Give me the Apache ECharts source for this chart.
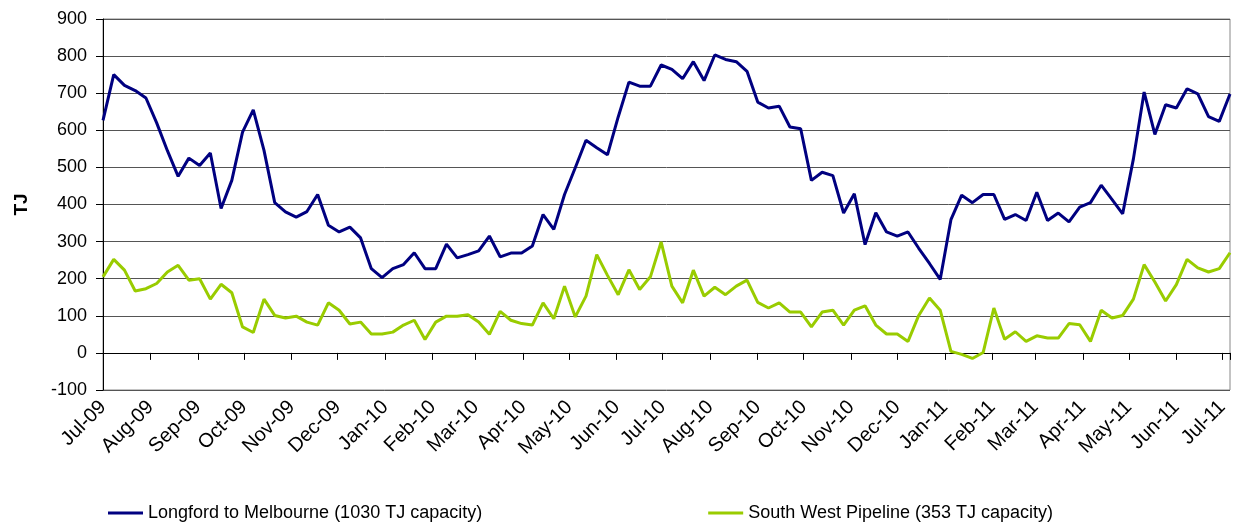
<!DOCTYPE html>
<html>
<head>
<meta charset="utf-8">
<script src="https://cdn.jsdelivr.net/npm/echarts@6/dist/echarts.min.js"></script>
<style>
  html, body { margin: 0; padding: 0; background: #fff; }
  #main { width: 1238px; height: 522px; }
</style>
</head>
<body>
<div id="main"></div>
<script>
// weekly dates
var weeks = [
  '2009-07-01','2009-07-08','2009-07-15','2009-07-22','2009-07-29',
  '2009-08-05','2009-08-12','2009-08-19','2009-08-26',
  '2009-09-02','2009-09-09','2009-09-16','2009-09-23','2009-09-30',
  '2009-10-07','2009-10-14','2009-10-21','2009-10-28',
  '2009-11-04','2009-11-11','2009-11-18','2009-11-25',
  '2009-12-02','2009-12-09','2009-12-16','2009-12-23','2009-12-30',
  '2010-01-06','2010-01-13','2010-01-20','2010-01-27',
  '2010-02-03','2010-02-10','2010-02-17','2010-02-24',
  '2010-03-03','2010-03-10','2010-03-17','2010-03-24','2010-03-31',
  '2010-04-07','2010-04-14','2010-04-21','2010-04-28',
  '2010-05-05','2010-05-12','2010-05-19','2010-05-26',
  '2010-06-02','2010-06-09','2010-06-16','2010-06-23','2010-06-30',
  '2010-07-07','2010-07-14','2010-07-21','2010-07-28',
  '2010-08-04','2010-08-11','2010-08-18','2010-08-25',
  '2010-09-01','2010-09-08','2010-09-15','2010-09-22','2010-09-29',
  '2010-10-06','2010-10-13','2010-10-20','2010-10-27',
  '2010-11-03','2010-11-10','2010-11-17','2010-11-24',
  '2010-12-01','2010-12-08','2010-12-15','2010-12-22','2010-12-29',
  '2011-01-05','2011-01-12','2011-01-19','2011-01-26',
  '2011-02-02','2011-02-09','2011-02-16','2011-02-23',
  '2011-03-02','2011-03-09','2011-03-16','2011-03-23','2011-03-30',
  '2011-04-06','2011-04-13','2011-04-20','2011-04-27',
  '2011-05-04','2011-05-11','2011-05-18','2011-05-25',
  '2011-06-01','2011-06-08','2011-06-15','2011-06-22','2011-06-29',
  '2011-07-06'
];

var longford = [
  627, 750, 721, 707, 687, 620, 545, 476, 525, 505,
  539, 389, 465, 595, 655, 546, 405, 380, 366, 381,
  427, 344, 326, 339, 310, 227, 203, 227, 238, 270,
  227, 227, 293, 256, 265, 275, 315, 259, 269, 269,
  288, 373, 333, 427, 499, 573, 553, 534, 636, 730,
  719, 719, 776, 764, 739, 785, 734, 803, 791, 785,
  759, 676, 660, 665, 609, 604, 465, 487, 478, 377,
  429, 292, 378, 326, 315, 326, 282, 241, 198, 359,
  425, 405, 427, 427, 360, 373, 357, 433, 357, 377,
  353, 393, 405, 452, 414, 375, 523, 703, 589, 669,
  660, 712, 698, 637, 624, 698
];

var southWest = [
  205, 252, 223, 167, 173, 187, 218, 236, 196, 200,
  145, 185, 162, 70, 55, 145, 101, 94, 99, 83,
  75, 135, 115, 78, 83, 51, 51, 56, 75, 88,
  36, 83, 99, 99, 103, 83, 50, 112, 88, 79,
  75, 135, 92, 180, 97, 153, 265, 209, 157, 224,
  171, 205, 299, 180, 135, 223, 153, 177, 157, 180,
  196, 136, 121, 135, 110, 110, 70, 110, 115, 75,
  115, 127, 75, 51, 51, 31, 101, 148, 115, 4,
  -4, -15, 1, 121, 37, 57, 31, 46, 40, 40,
  79, 76, 31, 115, 94, 101, 145, 238, 191, 140,
  184, 252, 229, 218, 227, 270
];

var monthNames = ['Jan','Feb','Mar','Apr','May','Jun','Jul','Aug','Sep','Oct','Nov','Dec'];

function pairs(vals) {
    return vals.map(function (v, i) { return [weeks[i], v]; });
}

var chart = echarts.init(document.getElementById('main'));
var font = 'Liberation Sans, Arial, sans-serif';
var DAY = 86400000;

var option = {
    animation: false,
    grid: {
        left: 103,
        right: 8,
        top: 19,
        bottom: 132,
        show: true,
        borderColor: '#888',
        borderWidth: 1
    },
    legend: {
        left: 103,
        top: 499,
        icon: 'rect',
        itemWidth: 35,
        itemHeight: 3,
        itemGap: 226,
        textStyle: { fontFamily: font, fontSize: 18, color: '#000' },
        data: ['Longford to Melbourne (1030 TJ capacity)', 'South West Pipeline (353 TJ capacity)']
    },
    xAxis: [
        {
            type: 'time',
            min: weeks[0],
            max: weeks[weeks.length - 1],
            splitNumber: 24,
            minInterval: 28 * DAY,
            maxInterval: 31 * DAY,
            axisLine: { show: false, onZero: false },
            axisTick: { show: false },
            splitLine: { show: false },
            axisLabel: {
                rotate: 45,
                margin: 14,
                fontFamily: font,
                fontSize: 20,
                color: '#000',
                hideOverlap: false,
                formatter: function (value) {
                    var d = new Date(value);
                    if (d.getDate() !== 1) return '';
                    return monthNames[d.getMonth()] + '-' + String(d.getFullYear()).slice(2);
                }
            }
        },
        {
            // tick marks on the zero line
            type: 'time',
            position: 'bottom',
            min: weeks[0],
            max: weeks[weeks.length - 1],
            splitNumber: 24,
            minInterval: 28 * DAY,
            maxInterval: 31 * DAY,
            axisLine: { show: true, onZero: true, lineStyle: { color: '#000', width: 1 } },
            axisTick: { show: true, length: 7, lineStyle: { color: '#000' } },
            axisLabel: { show: false },
            splitLine: { show: false }
        }
    ],
    yAxis: {
        type: 'value',
        min: -100,
        max: 900,
        interval: 100,
        name: 'TJ',
        nameLocation: 'middle',
        nameGap: 72,
        nameTextStyle: { fontFamily: font, fontSize: 19, fontWeight: 'bold', color: '#000' },
        axisLine: { show: true, lineStyle: { color: '#000', width: 1 } },
        axisTick: { show: true, length: 7, lineStyle: { color: '#000' } },
        axisLabel: { margin: 16, fontFamily: font, fontSize: 18, color: '#000' },
        splitLine: { show: true, lineStyle: { color: '#555', width: 1 } }
    },
    series: [
        {
            name: 'Longford to Melbourne (1030 TJ capacity)',
            type: 'line',
            xAxisIndex: 0,
            data: pairs(longford),
            showSymbol: false,
            color: '#000080',
            lineStyle: { width: 3, color: '#000080' }
        },
        {
            name: 'South West Pipeline (353 TJ capacity)',
            type: 'line',
            xAxisIndex: 0,
            data: pairs(southWest),
            showSymbol: false,
            color: '#99CC00',
            lineStyle: { width: 3, color: '#99CC00' }
        }
    ]
};
chart.setOption(option);
</script>
</body>
</html>
